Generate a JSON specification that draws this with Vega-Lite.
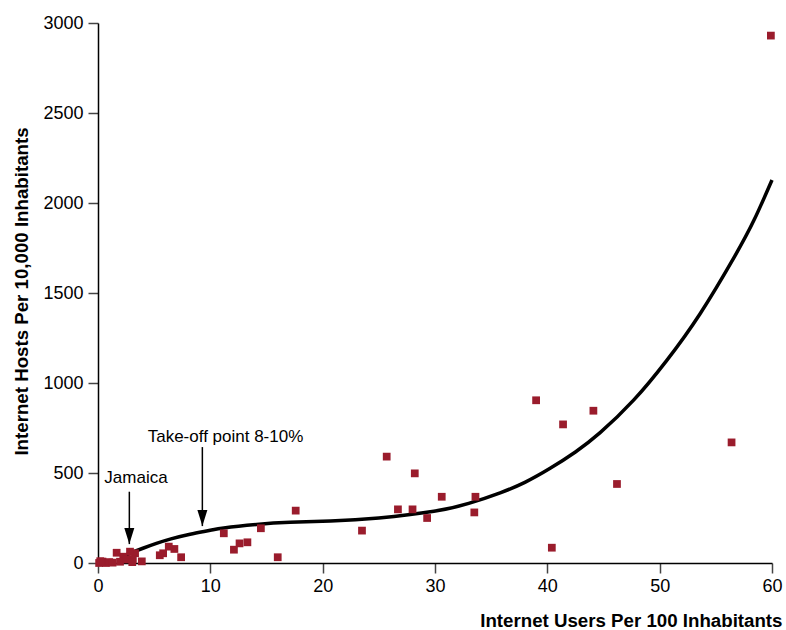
{
  "$schema": "https://vega.github.io/schema/vega-lite/v6.json",
  "width": 674,
  "height": 540,
  "autosize": {"type": "none"},
  "padding": {"left": 98, "top": 23, "right": 14, "bottom": 67},
  "background": "white",
  "config": {
    "view": {"stroke": null},
    "font": "Liberation Sans",
    "axis": {
      "grid": false,
      "domainColor": "black",
      "domainWidth": 1.5,
      "tickColor": "#444444",
      "tickWidth": 1.5,
      "tickSize": 10,
      "labelFont": "Liberation Sans",
      "labelFontSize": 18,
      "labelColor": "black",
      "labelFlush": false,
      "labelOverlap": false,
      "titleFont": "Liberation Sans",
      "titleFontSize": 18.7,
      "titleFontWeight": "bold",
      "titleColor": "black"
    }
  },
  "datasets": {
    "points": [
      {"users": 59.9, "hosts": 2930},
      {"users": 39.0, "hosts": 904},
      {"users": 41.4, "hosts": 770},
      {"users": 44.1, "hosts": 846},
      {"users": 56.4, "hosts": 670},
      {"users": 46.2, "hosts": 439},
      {"users": 40.4, "hosts": 85},
      {"users": 25.7, "hosts": 591},
      {"users": 28.2, "hosts": 498},
      {"users": 30.6, "hosts": 368},
      {"users": 33.6, "hosts": 368},
      {"users": 26.7, "hosts": 298},
      {"users": 28.0, "hosts": 298},
      {"users": 29.3, "hosts": 250},
      {"users": 33.5, "hosts": 281},
      {"users": 23.5, "hosts": 180},
      {"users": 17.6, "hosts": 291},
      {"users": 14.5, "hosts": 193},
      {"users": 11.2, "hosts": 165},
      {"users": 13.3, "hosts": 115},
      {"users": 12.6, "hosts": 109},
      {"users": 12.1, "hosts": 74},
      {"users": 16.0, "hosts": 32},
      {"users": 7.4, "hosts": 32},
      {"users": 6.8, "hosts": 78},
      {"users": 6.3, "hosts": 91},
      {"users": 5.8, "hosts": 54},
      {"users": 5.5, "hosts": 43},
      {"users": 3.9, "hosts": 9},
      {"users": 3.3, "hosts": 54},
      {"users": 2.85, "hosts": 63},
      {"users": 3.1, "hosts": 22},
      {"users": 2.25, "hosts": 35},
      {"users": 1.66, "hosts": 57},
      {"users": 1.96, "hosts": 7},
      {"users": 2.55, "hosts": 20},
      {"users": 3.05, "hosts": 5},
      {"users": 0.1, "hosts": 0},
      {"users": 0.4, "hosts": 8},
      {"users": 0.7, "hosts": 0},
      {"users": 1.0, "hosts": 5},
      {"users": 1.3, "hosts": 2},
      {"users": 0.2, "hosts": 10}
    ],
    "curve": [
      {"users": 2.5, "hosts": 45},
      {"users": 3.0, "hosts": 58},
      {"users": 4.0, "hosts": 82},
      {"users": 5.2, "hosts": 109},
      {"users": 6.5, "hosts": 134},
      {"users": 8.2, "hosts": 160},
      {"users": 10.0, "hosts": 182},
      {"users": 11.2, "hosts": 195},
      {"users": 14.1, "hosts": 214},
      {"users": 17.1, "hosts": 226},
      {"users": 20.7, "hosts": 233},
      {"users": 25.0, "hosts": 250},
      {"users": 29.9, "hosts": 287},
      {"users": 33.0, "hosts": 331},
      {"users": 35.8, "hosts": 390},
      {"users": 38.0, "hosts": 448},
      {"users": 40.25, "hosts": 526},
      {"users": 42.5, "hosts": 617},
      {"users": 44.7, "hosts": 724},
      {"users": 47.7, "hosts": 906},
      {"users": 50.6, "hosts": 1123},
      {"users": 53.6, "hosts": 1385},
      {"users": 56.6, "hosts": 1695},
      {"users": 58.4, "hosts": 1905},
      {"users": 60.0, "hosts": 2128}
    ],
    "arrows": [
      {"users": 2.79, "top": 396, "tip": 105},
      {"users": 9.29, "top": 644, "tip": 205}
    ],
    "labels": [
      {"users": 3.38, "hosts": 446, "text": "Jamaica"},
      {"users": 11.35, "hosts": 674, "text": "Take-off point 8-10%"}
    ]
  },
  "layer": [
    {
      "data": {"name": "curve"},
      "mark": {"type": "line", "color": "black", "strokeWidth": 3.5, "interpolate": "natural"},
      "encoding": {
        "x": {"field": "users", "type": "quantitative", "scale": {"domain": [0, 60], "nice": false},
          "axis": {"values": [0, 10, 20, 30, 40, 50, 60], "title": "Internet Users Per 100 Inhabitants",
            "labelPadding": 4, "titleAnchor": "end", "titleAlign": "right", "titleX": 684, "titleY": 63, "titleBaseline": "alphabetic"}},
        "y": {"field": "hosts", "type": "quantitative", "scale": {"domain": [0, 3000], "nice": false},
          "axis": {"values": [0, 500, 1000, 1500, 2000, 2500, 3000], "format": "d", "title": "Internet Hosts Per 10,000 Inhabitants",
            "labelPadding": 5, "titleAngle": -90, "titleAlign": "center", "titleBaseline": "alphabetic", "titleX": -71, "titleY": 268}}
      }
    },
    {
      "data": {"name": "points"},
      "mark": {"type": "point", "shape": "square", "filled": true, "size": 60, "color": "#9a1c2c", "opacity": 1},
      "encoding": {
        "x": {"field": "users", "type": "quantitative"},
        "y": {"field": "hosts", "type": "quantitative"}
      }
    },
    {
      "data": {"name": "arrows"},
      "mark": {"type": "rule", "color": "black", "strokeWidth": 1.5},
      "encoding": {
        "x": {"field": "users", "type": "quantitative"},
        "y": {"field": "top", "type": "quantitative"},
        "y2": {"field": "tip"}
      }
    },
    {
      "data": {"name": "arrows"},
      "mark": {"type": "point", "shape": "M-0.625,-2L0.625,-2L0,0Z", "filled": true, "size": 256, "color": "black", "opacity": 1, "strokeWidth": 0},
      "encoding": {
        "x": {"field": "users", "type": "quantitative"},
        "y": {"field": "tip", "type": "quantitative"}
      }
    },
    {
      "data": {"name": "labels"},
      "mark": {"type": "text", "font": "Liberation Sans", "fontSize": 17, "color": "black", "align": "center", "baseline": "alphabetic"},
      "encoding": {
        "x": {"field": "users", "type": "quantitative"},
        "y": {"field": "hosts", "type": "quantitative"},
        "text": {"field": "text"}
      }
    }
  ]
}
